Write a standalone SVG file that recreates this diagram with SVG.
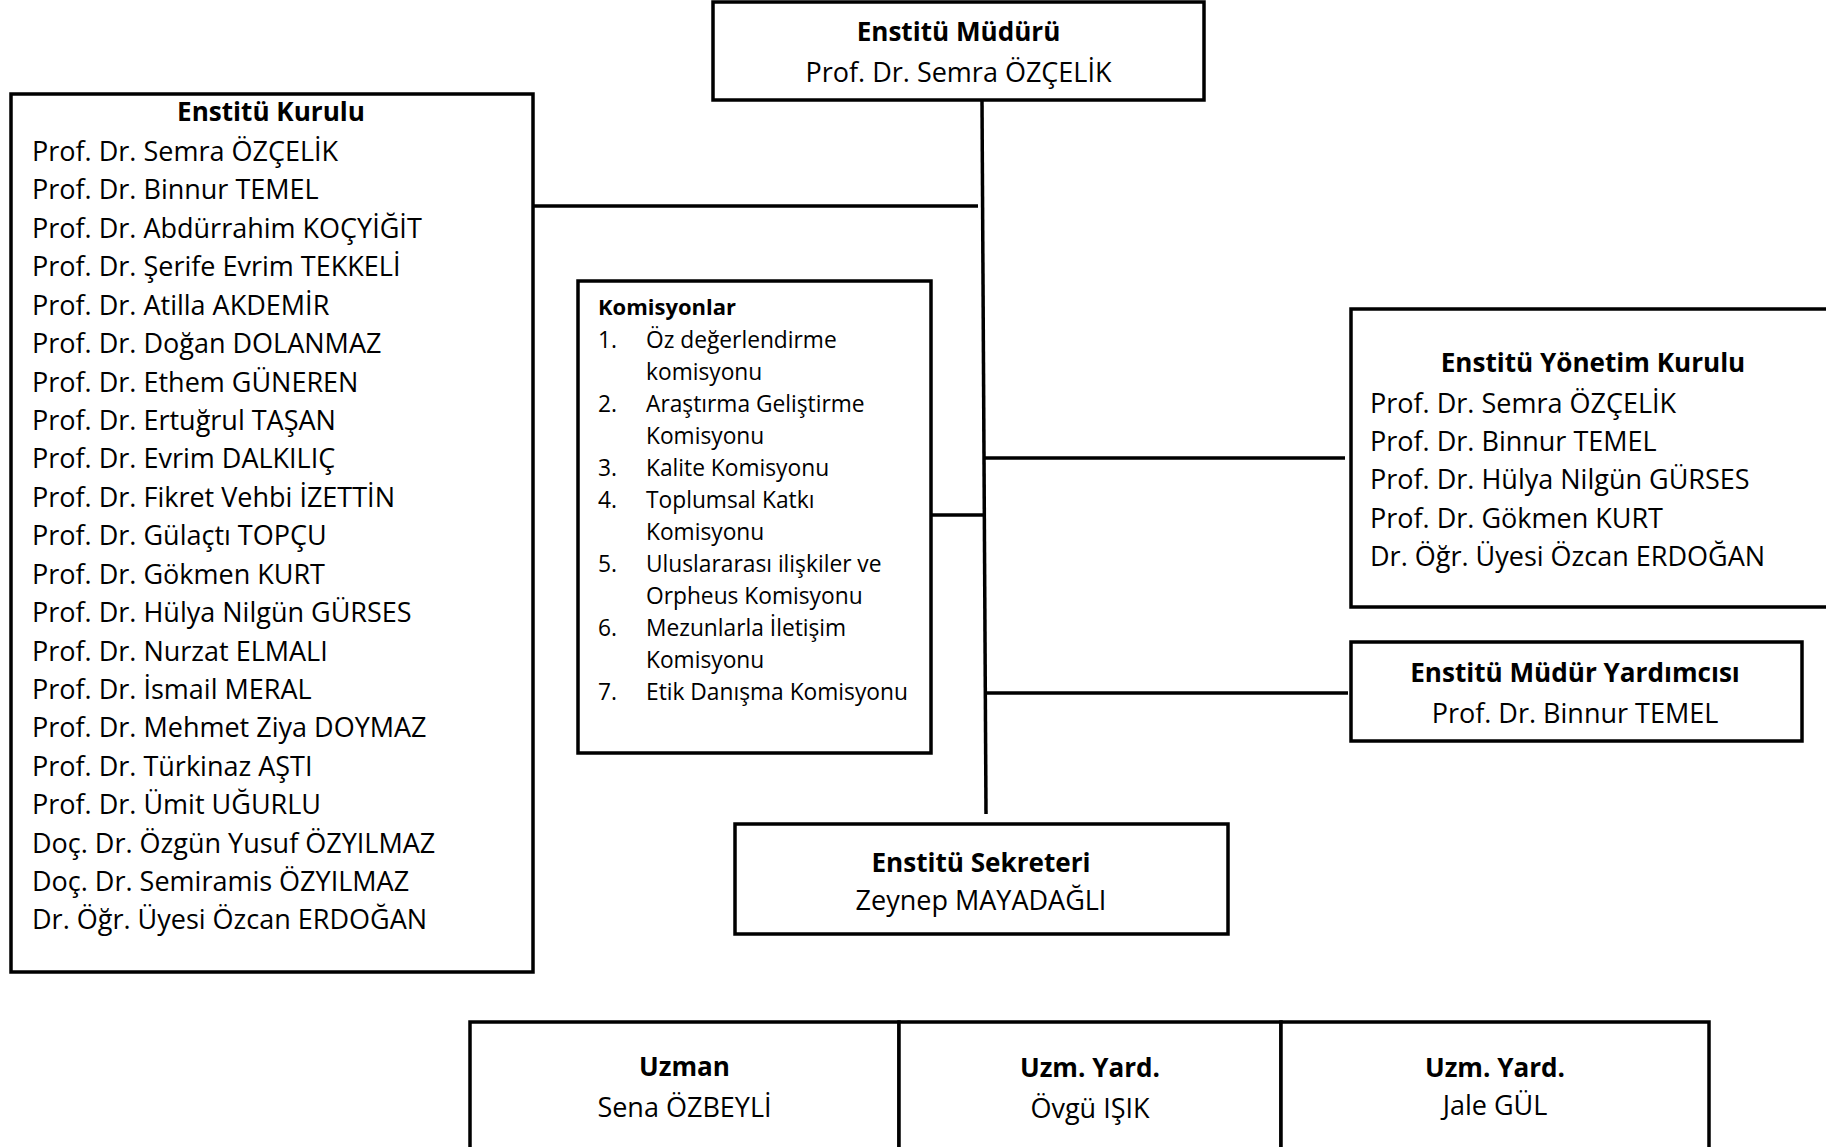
<svg xmlns="http://www.w3.org/2000/svg" width="1826" height="1147" viewBox="0 0 1826 1147">
<style>
.box{fill:#fff;stroke:#000;stroke-width:3.5}
.ln{stroke:#000;stroke-width:3.5;fill:none}
text{font-family:"Open Sans","Noto Sans",sans-serif;font-size:27px;fill:#000}
.b{font-weight:bold;font-size:26.1px}
.c{text-anchor:middle}
.s{font-size:22.75px}
.s.b{font-size:22px}
</style>
<rect width="1826" height="1147" fill="#fff"/>
<g id="connectors">
<line class="ln" x1="982" y1="100" x2="986" y2="814"/>
<line class="ln" x1="533" y1="206" x2="978" y2="206"/>
<line class="ln" x1="931" y1="515" x2="984" y2="515"/>
<line class="ln" x1="984" y1="458" x2="1345" y2="458"/>
<line class="ln" x1="986" y1="693" x2="1348" y2="693"/>
</g>
<g id="mudur">
<rect class="box" x="713" y="2" width="491" height="98"/>
<text class="b c" x="958.5" y="41">Enstitü Müdürü</text>
<text class="c" x="958.5" y="82">Prof. Dr. Semra ÖZÇELİK</text>
</g>
<g id="kurul">
<rect class="box" x="11" y="94" width="522" height="878"/>
<text class="b c" x="271" y="121">Enstitü Kurulu</text>
<text x="32" y="161">Prof. Dr. Semra ÖZÇELİK</text>
<text x="32" y="199.4">Prof. Dr. Binnur TEMEL</text>
<text x="32" y="237.8">Prof. Dr. Abdürrahim KOÇYİĞİT</text>
<text x="32" y="276.3">Prof. Dr. Şerife Evrim TEKKELİ</text>
<text x="32" y="314.7">Prof. Dr. Atilla AKDEMİR</text>
<text x="32" y="353.1">Prof. Dr. Doğan DOLANMAZ</text>
<text x="32" y="391.5">Prof. Dr. Ethem GÜNEREN</text>
<text x="32" y="429.9">Prof. Dr. Ertuğrul TAŞAN</text>
<text x="32" y="468.4">Prof. Dr. Evrim DALKILIÇ</text>
<text x="32" y="506.8">Prof. Dr. Fikret Vehbi İZETTİN</text>
<text x="32" y="545.2">Prof. Dr. Gülaçtı TOPÇU</text>
<text x="32" y="583.6">Prof. Dr. Gökmen KURT</text>
<text x="32" y="622">Prof. Dr. Hülya Nilgün GÜRSES</text>
<text x="32" y="660.5">Prof. Dr. Nurzat ELMALI</text>
<text x="32" y="698.9">Prof. Dr. İsmail MERAL</text>
<text x="32" y="737.3">Prof. Dr. Mehmet Ziya DOYMAZ</text>
<text x="32" y="775.7">Prof. Dr. Türkinaz AŞTI</text>
<text x="32" y="814.1">Prof. Dr. Ümit UĞURLU</text>
<text x="32" y="852.6">Doç. Dr. Özgün Yusuf ÖZYILMAZ</text>
<text x="32" y="891">Doç. Dr. Semiramis ÖZYILMAZ</text>
<text x="32" y="929.4">Dr. Öğr. Üyesi Özcan ERDOĞAN</text>
</g>
<g id="komisyonlar">
<rect class="box" x="578" y="281" width="353" height="472"/>
<text class="s b" x="598" y="315">Komisyonlar</text>
<g class="num">
<text class="s" x="598" y="348">1.</text>
<text class="s" x="598" y="412">2.</text>
<text class="s" x="598" y="476">3.</text>
<text class="s" x="598" y="508">4.</text>
<text class="s" x="598" y="572">5.</text>
<text class="s" x="598" y="636">6.</text>
<text class="s" x="598" y="700">7.</text>
</g>
<text class="s" x="646" y="348">Öz değerlendirme</text>
<text class="s" x="646" y="380">komisyonu</text>
<text class="s" x="646" y="412">Araştırma Geliştirme</text>
<text class="s" x="646" y="444">Komisyonu</text>
<text class="s" x="646" y="476">Kalite Komisyonu</text>
<text class="s" x="646" y="508">Toplumsal Katkı</text>
<text class="s" x="646" y="540">Komisyonu</text>
<text class="s" x="646" y="572">Uluslararası ilişkiler ve</text>
<text class="s" x="646" y="604">Orpheus Komisyonu</text>
<text class="s" x="646" y="636">Mezunlarla İletişim</text>
<text class="s" x="646" y="668">Komisyonu</text>
<text class="s" x="646" y="700">Etik Danışma Komisyonu</text>
</g>
<g id="yonetim">
<rect class="box" x="1351" y="309" width="500" height="298"/>
<text class="b c" x="1593" y="372">Enstitü Yönetim Kurulu</text>
<text x="1370" y="412.5">Prof. Dr. Semra ÖZÇELİK</text>
<text x="1370" y="451">Prof. Dr. Binnur TEMEL</text>
<text x="1370" y="489.3">Prof. Dr. Hülya Nilgün GÜRSES</text>
<text x="1370" y="527.5">Prof. Dr. Gökmen KURT</text>
<text x="1370" y="566">Dr. Öğr. Üyesi Özcan ERDOĞAN</text>
</g>
<g id="yardimci">
<rect class="box" x="1351" y="642" width="451" height="99"/>
<text class="b c" x="1575" y="681.5">Enstitü Müdür Yardımcısı</text>
<text class="c" x="1575" y="722.5">Prof. Dr. Binnur TEMEL</text>
</g>
<g id="sekreter">
<rect class="box" x="735" y="824" width="493" height="110"/>
<text class="b c" x="981" y="871.5">Enstitü Sekreteri</text>
<text class="c" x="981" y="910">Zeynep MAYADAĞLI</text>
</g>
<g id="uzman">
<rect class="box" x="470" y="1022" width="429" height="150"/>
<text class="b c" x="684.5" y="1076">Uzman</text>
<text class="c" x="684.5" y="1117">Sena ÖZBEYLİ</text>
</g>
<g id="uzmyard1">
<rect class="box" x="899" y="1022" width="382" height="150"/>
<text class="b c" x="1090" y="1077">Uzm. Yard.</text>
<text class="c" x="1090" y="1118">Övgü IŞIK</text>
</g>
<g id="uzmyard2">
<rect class="box" x="1281" y="1022" width="428" height="150"/>
<text class="b c" x="1495" y="1077">Uzm. Yard.</text>
<text class="c" x="1495" y="1115">Jale GÜL</text>
</g>
</svg>
